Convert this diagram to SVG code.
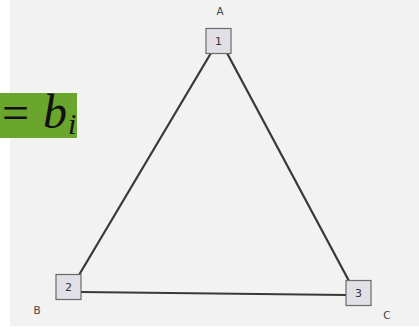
<svg xmlns="http://www.w3.org/2000/svg" width="419" height="327" viewBox="0 0 419 327">
<style>
.node rect{fill:#e2dfe6;stroke:#6a6a6a;stroke-width:1.2}
.node text{font-family:"DejaVu Sans",sans-serif;font-size:11px;fill:#333;text-anchor:middle}
.lbl{font-family:"DejaVu Sans",sans-serif;font-size:10.5px;fill:#444;text-anchor:middle}
.edge{stroke:#383838;stroke-width:2.2;fill:none}
.math{font-family:"Liberation Serif","DejaVu Serif",serif;fill:#111}
</style>
<rect x="0" y="0" width="419" height="327" fill="#ffffff"/>
<rect x="10" y="0" width="409" height="326" fill="#f2f2f2"/>
<g id="connectors">
<line class="edge" x1="211" y1="53" x2="79" y2="275"/>
<line class="edge" x1="227" y1="53" x2="349" y2="281"/>
<line class="edge" x1="81" y1="292" x2="346" y2="295"/>
</g>
<g id="node1" class="node"><rect x="206" y="28.5" width="25" height="25"/><text x="218.5" y="45">1</text></g>
<g id="node2" class="node"><rect x="56" y="274.5" width="25" height="25"/><text x="68.5" y="291">2</text></g>
<g id="node3" class="node"><rect x="346" y="280.5" width="25" height="25"/><text x="358.5" y="297">3</text></g>
<g id="labelA"><text class="lbl" x="220" y="15">A</text></g>
<g id="labelB"><text class="lbl" x="37" y="314">B</text></g>
<g id="labelC"><text class="lbl" x="387" y="319">C</text></g>
<g id="formula">
<rect x="0" y="93" width="77" height="45" fill="#6aa62e"/>
<text class="math" x="29" y="129" font-size="48" text-anchor="end">=</text>
<text class="math" x="43" y="128" font-size="48" font-style="italic">b</text>
<text class="math" x="68" y="134" font-size="30" font-style="italic">i</text>
</g>
</svg>
